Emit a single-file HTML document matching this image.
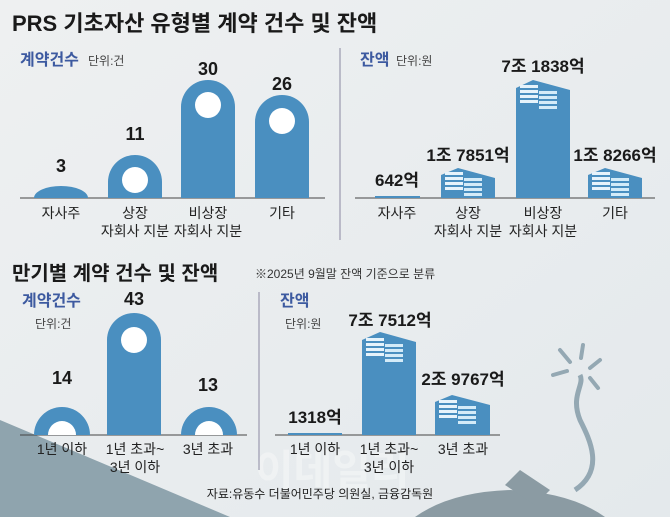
<!DOCTYPE html>
<html><head><meta charset="utf-8"><style>
html,body{margin:0;padding:0;background:#eceff1;width:670px;height:517px;overflow:hidden;}
svg{display:block;font-family:"Liberation Sans","Noto Sans CJK KR",sans-serif;}
</style></head><body>
<svg width="670" height="517" viewBox="0 0 670 517" xmlns="http://www.w3.org/2000/svg">
<defs>
<linearGradient id="bg" x1="0" y1="0" x2="1" y2="1"><stop offset="0" stop-color="#eef0f1"/><stop offset="1" stop-color="#e4e9ec"/></linearGradient>
<g id="money">
 <g fill="#e6f3fb"><rect x="0" y="0" width="18" height="3"/><rect x="0" y="5" width="18" height="3"/><rect x="0" y="10" width="18" height="3"/><rect x="0" y="15" width="18" height="3"/></g>
 <g fill="#d4ebf8"><rect x="19" y="6" width="18" height="3"/><rect x="19" y="11" width="18" height="3"/><rect x="19" y="16" width="18" height="3"/><rect x="19" y="21" width="18" height="3"/></g>
</g>
</defs>
<rect width="670" height="517" fill="url(#bg)"/>
<polygon points="0,420 230,517 0,517" fill="#8fa4ae"/>
<path d="M415,517 Q450,492 510,490 Q570,492 605,517 Z" fill="#8b9ba3"/>
<polygon points="520,470 550,490 535,505 505,485" fill="#8b9ba3"/>
<path d="M575,490 C605,470 590,440 580,420 C570,395 585,385 580,375" stroke="#94a8b3" stroke-width="5" fill="none"/>
<g stroke="#94a8b3" stroke-width="4" stroke-linecap="round"><line x1="560" y1="350" x2="570" y2="362"/><line x1="583" y1="345" x2="581" y2="358"/><line x1="600" y1="360" x2="590" y2="368"/><line x1="553" y1="375" x2="567" y2="371"/><line x1="590" y1="378" x2="598" y2="388"/></g>
<text x="255" y="485" font-size="42" font-weight="bold" fill="#ffffff" opacity="0.35">이데일리</text>

<text x="12" y="31" font-size="22" font-weight="bold" fill="#1a1a1a">PRS 기초자산 유형별 계약 건수 및 잔액</text>
<text x="20" y="65" font-size="16" font-weight="bold" fill="#3d5aa0">계약건수</text>
<text x="88" y="65" font-size="12" fill="#444">단위:건</text>
<line x1="20" y1="198" x2="325" y2="198" stroke="#444" stroke-width="1"/>
<path d="M34,198 A27,12 0 0 1 88,198 Z" fill="#4a8fc0"/>
<path d="M108,198 V182 A27,27 0 0 1 162,182 V198 Z" fill="#4a8fc0"/><circle cx="135" cy="180" r="13" fill="#fff"/>
<path d="M181,198 V107 A27,27 0 0 1 235,107 V198 Z" fill="#4a8fc0"/><circle cx="208" cy="105" r="13" fill="#fff"/>
<path d="M255,198 V122 A27,27 0 0 1 309,122 V198 Z" fill="#4a8fc0"/><circle cx="282" cy="121" r="13" fill="#fff"/>
<g font-size="18" font-weight="bold" fill="#1a1a1a" text-anchor="middle">
<text x="61" y="172">3</text><text x="135" y="140">11</text><text x="208" y="75">30</text><text x="282" y="90">26</text></g>
<g font-size="14" fill="#222" text-anchor="middle">
<text x="61" y="218">자사주</text><text x="135" y="218">상장</text><text x="135" y="236">자회사 지분</text>
<text x="208" y="218">비상장</text><text x="208" y="236">자회사 지분</text><text x="282" y="218">기타</text></g>
<line x1="340" y1="48" x2="340" y2="240" stroke="#aab" stroke-width="1.5"/>
<text x="360" y="65" font-size="16" font-weight="bold" fill="#3d5aa0">잔액</text>
<text x="396" y="65" font-size="12" fill="#444">단위:원</text>
<line x1="355" y1="198" x2="655" y2="198" stroke="#444" stroke-width="1"/>
<line x1="375" y1="197" x2="420" y2="197" stroke="#4a8fc0" stroke-width="2"/>
<polygon points="441,198 441,175 458,168 495,178 495,198" fill="#4a8fc0"/><use href="#money" x="445" y="172"/>
<polygon points="516,198 516,88 533,80 570,90 570,198" fill="#4a8fc0"/><use href="#money" x="520" y="85"/>
<polygon points="588,198 588,175 605,168 642,178 642,198" fill="#4a8fc0"/><use href="#money" x="592" y="172"/>
<g font-size="17" font-weight="bold" fill="#1a1a1a" text-anchor="middle">
<text x="397" y="186">642억</text><text x="468" y="161">1조 7851억</text><text x="543" y="72">7조 1838억</text><text x="615" y="161">1조 8266억</text></g>
<g font-size="14" fill="#222" text-anchor="middle">
<text x="397" y="218">자사주</text><text x="468" y="218">상장</text><text x="468" y="236">자회사 지분</text>
<text x="543" y="218">비상장</text><text x="543" y="236">자회사 지분</text><text x="615" y="218">기타</text></g>
<text x="12" y="280" font-size="20" font-weight="bold" fill="#1a1a1a">만기별 계약 건수 및 잔액</text>
<text x="255" y="278" font-size="12" fill="#333">※2025년 9월말 잔액 기준으로 분류</text>
<text x="22" y="306" font-size="16" font-weight="bold" fill="#3d5aa0">계약건수</text>
<text x="35" y="328" font-size="12" fill="#444">단위:건</text>
<line x1="20" y1="435" x2="247" y2="435" stroke="#444" stroke-width="1"/>
<path d="M34,435 A28,28 0 0 1 90,435 Z" fill="#4a8fc0"/><path d="M48,435 A14,14 0 0 1 76,435 Z" fill="#fff"/>
<path d="M107,435 V340 A27,27 0 0 1 161,340 V435 Z" fill="#4a8fc0"/><circle cx="134" cy="340" r="13" fill="#fff"/>
<path d="M181,435 A28,28 0 0 1 237,435 Z" fill="#4a8fc0"/><path d="M195,435 A14,14 0 0 1 223,435 Z" fill="#fff"/>
<g font-size="18" font-weight="bold" fill="#1a1a1a" text-anchor="middle">
<text x="62" y="384">14</text><text x="134" y="305">43</text><text x="208" y="391">13</text></g>
<g font-size="14" fill="#222" text-anchor="middle">
<text x="62" y="454">1년 이하</text><text x="135" y="454">1년 초과~</text><text x="135" y="472">3년 이하</text><text x="208" y="454">3년 초과</text></g>
<line x1="259" y1="292" x2="259" y2="470" stroke="#aab" stroke-width="1.5"/>
<text x="280" y="306" font-size="16" font-weight="bold" fill="#3d5aa0">잔액</text>
<text x="285" y="328" font-size="12" fill="#444">단위:원</text>
<line x1="275" y1="435" x2="500" y2="435" stroke="#444" stroke-width="1"/>
<line x1="288" y1="434" x2="342" y2="434" stroke="#4a8fc0" stroke-width="2"/>
<polygon points="362,435 362,340 380,332 416,342 416,435" fill="#4a8fc0"/><use href="#money" x="366" y="338"/>
<polygon points="435,435 435,402 452,395 490,405 490,435" fill="#4a8fc0"/><use href="#money" x="439" y="400"/>
<g font-size="17" font-weight="bold" fill="#1a1a1a" text-anchor="middle">
<text x="315" y="423">1318억</text><text x="390" y="326">7조 7512억</text><text x="463" y="385">2조 9767억</text></g>
<g font-size="14" fill="#222" text-anchor="middle">
<text x="315" y="454">1년 이하</text><text x="389" y="454">1년 초과~</text><text x="389" y="472">3년 이하</text><text x="463" y="454">3년 초과</text></g>
<text x="320" y="498" font-size="12" fill="#222" text-anchor="middle">자료:유동수 더불어민주당 의원실, 금융감독원</text>
</svg>
</body></html>
